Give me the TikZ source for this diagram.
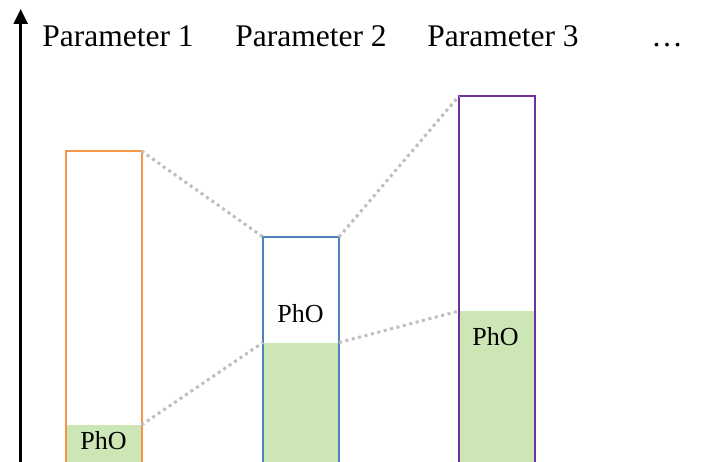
\documentclass[tikz,border=0pt]{standalone}
\usepackage{fontspec}
\setmainfont{Liberation Serif}
\usetikzlibrary{positioning,arrows.meta}
\definecolor{BarOrange}{RGB}{247,150,70}
\definecolor{BarBlue}{RGB}{79,129,189}
\definecolor{BarPurple}{RGB}{112,48,160}
\definecolor{PhoGreen}{RGB}{205,230,181}
\definecolor{LinkGray}{RGB}{190,190,190}

\tikzset{
	param/.style={anchor=base, inner sep=0pt, font=\fontsize{31.5}{36}\selectfont},
	bar/.style={draw, line width=2pt, minimum width=76pt, minimum height=420pt, inner sep=0pt, outer sep=0pt, anchor=north west},
	phofill/.style={fill=PhoGreen, minimum width=76pt, minimum height=200pt, inner sep=0pt, outer sep=0pt, anchor=north west},
	pholabel/.style={font=\fontsize{26}{30}\selectfont, inner sep=0pt},
	link/.style={LinkGray, line width=3pt, dash pattern=on 3pt off 3.6pt}
}

\begin{document}
\begin{tikzpicture}[x=1pt,y=-1pt]
				
				\useasboundingbox (0,0) rectangle (706,462);
				
				% axis
				\coordinate (axbot) at (20.7,470);
				\coordinate (axtop) at (20.7,9);
				\draw[line width=2.5pt,-{Triangle[length=15pt,width=14pt]}] (axbot) -- (axtop);
				
				% headings
				\node[param] (h1) at (118,47) {Parameter 1};
				\node[param] (h2) at (311,47) {Parameter 2};
				\node[param] (h3) at (503,47) {Parameter 3};
				\node[param] (h4) at (667,47) {\dots};
				
				% green parts
				\node[phofill] (g1) at (65.5,425) {};
				\node[phofill] (g2) at (263,342.5) {};
				\node[phofill] (g3) at (459,311) {};
				
				% bars
				\node[
				bar,
				draw=BarOrange
				]
				(b1) at (65.5,151) {};
				
				\node[
				bar,
				draw=BarBlue
				]
				(b2) at (263,237) {};
				
				\node[
				bar,
				draw=BarPurple
				]
				(b3) at (459,96) {};
				
				% labels
				\node[pholabel] (p1) at (103.5,441) {PhO};
				\node[pholabel] (p2) at (300.5,313.5) {PhO};
				\node[pholabel] (p3) at (495.5,337) {PhO};
				
				% dotted links
				\draw[link] (b1.north east) -- (b2.north west);
				\draw[link] (b2.north east) -- (b3.north west);
				\draw[link] (g1.north east) -- (g2.north west);
				\draw[link] (g2.north east) -- (g3.north west);
				
			\end{tikzpicture}
\end{document}
